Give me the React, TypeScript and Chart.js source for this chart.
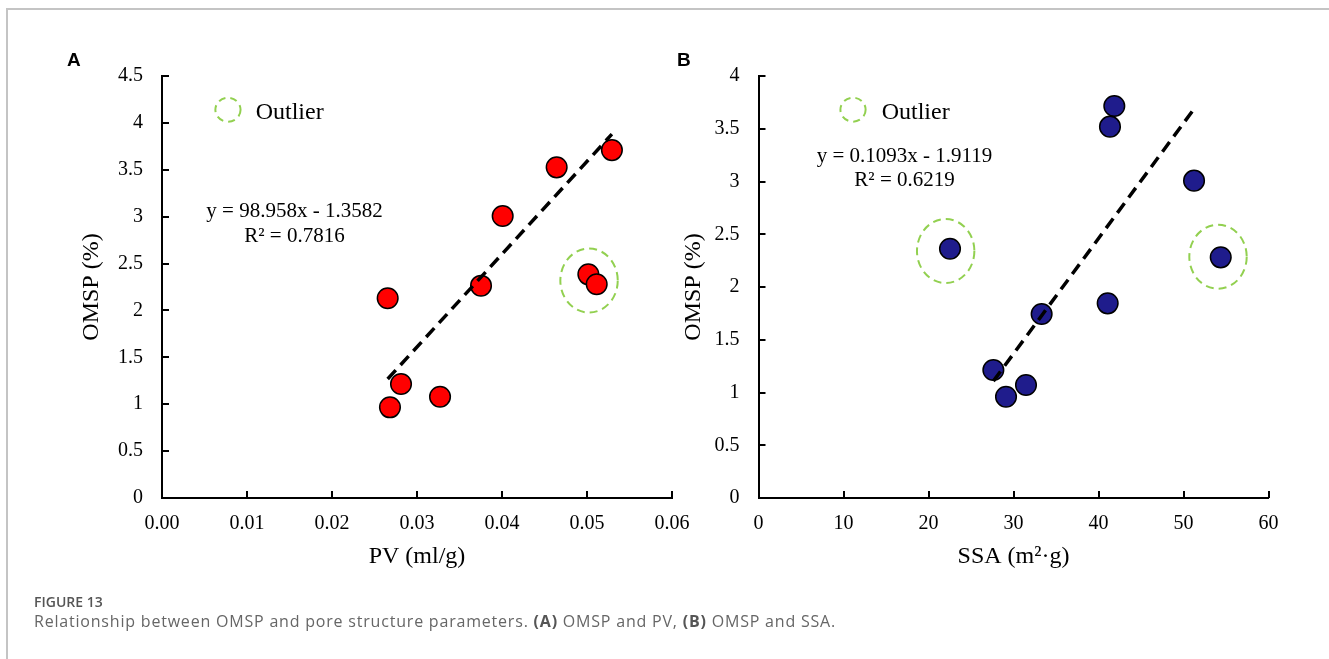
import React, { useEffect, useRef } from "react";
import { Chart, registerables } from "chart.js";

Chart.register(...registerables);

// ---------- Panel A : OMSP vs PV ----------
const pvValues = [0.02655, 0.03753, 0.04008, 0.04643, 0.05293, 0.05016, 0.05114, 0.02812, 0.02682, 0.03271];
const omspA = [2.13, 2.264, 3.007, 3.526, 3.71, 2.385, 2.279, 1.215, 0.967, 1.08];
const xTicksA = [0, 0.01, 0.02, 0.03, 0.04, 0.05, 0.06];
const xTickLabelsA = ["0.00", "0.01", "0.02", "0.03", "0.04", "0.05", "0.06"];
const yTicksA = [0, 0.5, 1, 1.5, 2, 2.5, 3, 3.5, 4, 4.5];
const yTickLabelsA = ["0", "0.5", "1", "1.5", "2", "2.5", "3", "3.5", "4", "4.5"];
const fitA = { slope: 98.958, intercept: -1.3582, from: 0.02655, to: 0.05293 };
const eqTextA = ["y = 98.958x - 1.3582", "R² = 0.7816"];
const outlierXA = [0.05024];
const outlierYA = [2.319];

// ---------- Panel B : OMSP vs SSA ----------
const ssaValues = [41.86, 41.35, 51.24, 22.53, 54.38, 41.08, 33.31, 27.63, 31.47, 29.12];
const omspB = [3.716, 3.52, 3.008, 2.363, 2.281, 1.845, 1.744, 1.213, 1.071, 0.96];
const xTicksB = [0, 10, 20, 30, 40, 50, 60];
const xTickLabelsB = ["0", "10", "20", "30", "40", "50", "60"];
const yTicksB = [0, 0.5, 1, 1.5, 2, 2.5, 3, 3.5, 4];
const yTickLabelsB = ["0", "0.5", "1", "1.5", "2", "2.5", "3", "3.5", "4"];
const fitB = { slope: 0.1093, intercept: -1.9119, from: 27.63, to: 51.24 };
const eqTextB = ["y = 0.1093x - 1.9119", "R² = 0.6219"];
const outlierXB = [22.02, 54.06];
const outlierYB = [2.341, 2.287];

const SERIF = "'Liberation Serif', 'Times New Roman', serif";
const GREEN = "#92d050";

type Panel = {
  xs: number[];
  ys: number[];
  color: string;
  xMin: number; xMax: number; xStep: number;
  yMin: number; yMax: number; yStep: number;
  xTicks: number[]; xLabels: string[];
  yTicks: number[]; yLabels: string[];
  fit: { slope: number; intercept: number; from: number; to: number };
  eq: string[];
  eqPos: [number, number, number];
  legendPos: [number, number];
  legendTextX: number;
  legendTextY: number;
  outX: number[]; outY: number[];
  xTitle: string; yTitle: string;
  yAxisWidth: number; padRight: number; padTop: number; yTitlePad: number;
};

const panelA: Panel = {
  xs: pvValues, ys: omspA, color: "#ff0000",
  xMin: 0, xMax: 0.06, xStep: 0.01, yMin: 0, yMax: 4.5, yStep: 0.5,
  xTicks: xTicksA, xLabels: xTickLabelsA, yTicks: yTicksA, yLabels: yTickLabelsA,
  fit: fitA, eq: eqTextA,
  eqPos: [0.01559, 3.053, 2.794],
  legendPos: [0.00776, 4.14],
  legendTextX: 0.01102, legendTextY: 4.04,
  outX: outlierXA, outY: outlierYA,
  xTitle: "PV (ml/g)", yTitle: "OMSP (%)",
  yAxisWidth: 162, padRight: 28, padTop: 76, yTitlePad: 77.6,
};

const panelB: Panel = {
  xs: ssaValues, ys: omspB, color: "#1f1c8c",
  xMin: 0, xMax: 60, xStep: 10, yMin: 0, yMax: 4, yStep: 0.5,
  xTicks: xTicksB, xLabels: xTickLabelsB, yTicks: yTicksB, yLabels: yTickLabelsB,
  fit: fitB, eq: eqTextB,
  eqPos: [17.18, 3.235, 3.005],
  legendPos: [11.12, 3.681],
  legendTextX: 14.49, legendTextY: 3.592,
  outX: outlierXB, outY: outlierYB,
  xTitle: "SSA (m²·g)", yTitle: "OMSP (%)",
  yAxisWidth: 129.5, padRight: 60.5, padTop: 76, yTitlePad: 50.3,
};

function labelFor(ticks: number[], labels: string[], v: number) {
  for (let j = 0; j < ticks.length; j++) if (Math.abs(ticks[j] - v) < 1e-9) return labels[j];
  return "";
}

function makeAnnotations(p: Panel) {
  return {
    id: "panelAnnotations",
    afterDatasetsDraw(chart: any) {
      const { ctx } = chart;
      const x = chart.scales.x;
      const y = chart.scales.y;
      ctx.save();
      ctx.strokeStyle = GREEN;
      ctx.lineWidth = 2;
      ctx.setLineDash([8, 5]);
      p.outX.forEach((vx, i) => {
        ctx.beginPath();
        ctx.ellipse(x.getPixelForValue(vx), y.getPixelForValue(p.outY[i]), 28.7, 32, 0, 0, Math.PI * 2);
        ctx.stroke();
      });
      ctx.setLineDash([7, 5]);
      ctx.beginPath();
      ctx.ellipse(x.getPixelForValue(p.legendPos[0]), y.getPixelForValue(p.legendPos[1]), 12.6, 12, 0, 0, Math.PI * 2);
      ctx.stroke();
      ctx.setLineDash([]);
      ctx.fillStyle = "#000";
      ctx.font = `24px ${SERIF}`;
      ctx.textAlign = "left";
      ctx.textBaseline = "alphabetic";
      ctx.fillText("Outlier", x.getPixelForValue(p.legendTextX), y.getPixelForValue(p.legendTextY));
      ctx.font = `21px ${SERIF}`;
      ctx.textAlign = "center";
      ctx.textBaseline = "middle";
      const ex = x.getPixelForValue(p.eqPos[0]);
      ctx.fillText(p.eq[0], ex, y.getPixelForValue(p.eqPos[1]));
      ctx.fillText(p.eq[1], ex, y.getPixelForValue(p.eqPos[2]));
      ctx.restore();
    },
    afterDraw(chart: any) {
      // inward tick marks on both axes
      const { ctx } = chart;
      const x = chart.scales.x;
      const y = chart.scales.y;
      const area = chart.chartArea;
      ctx.save();
      ctx.strokeStyle = "#000";
      ctx.lineWidth = 2;
      ctx.setLineDash([]);
      ctx.beginPath();
      x.ticks.forEach((t: any) => {
        const px = Math.round(x.getPixelForValue(t.value));
        ctx.moveTo(px, area.bottom);
        ctx.lineTo(px, area.bottom - 7);
      });
      y.ticks.forEach((t: any) => {
        const py = Math.round(y.getPixelForValue(t.value));
        ctx.moveTo(area.left, py);
        ctx.lineTo(area.left + 7, py);
      });
      ctx.stroke();
      ctx.restore();
    },
  };
}

function buildChart(canvas: HTMLCanvasElement, p: Panel) {
  const points = p.xs.map((v, i) => ({ x: v, y: p.ys[i] }));
  const trend = [p.fit.from, p.fit.to].map((v) => ({ x: v, y: p.fit.slope * v + p.fit.intercept }));
  const tickFont = { family: SERIF, size: 20 };
  const titleFont = { family: SERIF, size: 24 };
  return new Chart(canvas, {
    type: "scatter",
    data: {
      datasets: [
        {
          data: trend,
          showLine: true,
          borderColor: "#000",
          borderWidth: 3.5,
          borderDash: [12, 7],
          pointRadius: 0,
          fill: false,
          order: 0,
        } as any,
        {
          data: points,
          backgroundColor: p.color,
          borderColor: "#000",
          borderWidth: 1.5,
          pointRadius: 10.3,
          order: 1,
        } as any,
      ],
    },
    options: {
      animation: false,
      responsive: false,
      maintainAspectRatio: false,
      events: [],
      layout: { padding: { left: 0, right: p.padRight, top: p.padTop, bottom: 0 } },
      plugins: { legend: { display: false }, tooltip: { enabled: false } },
      scales: {
        x: {
          type: "linear",
          position: "bottom",
          min: p.xMin,
          max: p.xMax,
          ticks: {
            stepSize: p.xStep,
            autoSkip: false,
            maxRotation: 0,
            padding: 14,
            color: "#000",
            font: tickFont,
            callback: (v: any) => labelFor(p.xTicks, p.xLabels, Number(v)),
          },
          grid: { display: true, drawOnChartArea: false, drawTicks: false },
          border: { display: true, color: "#000", width: 2 },
          title: { display: true, text: p.xTitle, color: "#000", font: titleFont, padding: { top: 0, bottom: 28.6 } },
          afterFit: (s: any) => {
            s.height = 102;
            s.paddingLeft = 0;
            s.paddingRight = 0;
          },
        },
        y: {
          type: "linear",
          position: "left",
          min: p.yMin,
          max: p.yMax,
          ticks: {
            stepSize: p.yStep,
            autoSkip: false,
            padding: 19,
            color: "#000",
            font: tickFont,
            callback: (v: any) => labelFor(p.yTicks, p.yLabels, Number(v)),
          },
          grid: { display: true, drawOnChartArea: false, drawTicks: false },
          border: { display: true, color: "#000", width: 2 },
          title: { display: true, text: p.yTitle, color: "#000", font: titleFont, padding: { top: p.yTitlePad, bottom: 0 } },
          afterFit: (s: any) => {
            s.width = p.yAxisWidth;
            s.paddingTop = 0;
            s.paddingBottom = 0;
          },
        },
      },
    } as any,
    plugins: [makeAnnotations(p) as any],
  });
}

function PanelChart({ panel, left }: { panel: Panel; left: number }) {
  const ref = useRef<HTMLCanvasElement | null>(null);
  useEffect(() => {
    if (!ref.current) return;
    const chart = buildChart(ref.current, panel);
    return () => chart.destroy();
  }, [panel]);
  return (
    <canvas
      ref={ref}
      width={700}
      height={600}
      style={{ position: "absolute", left, top: 0, width: 700, height: 600 }}
    />
  );
}

const captionBold = { fontWeight: 700, color: "#555" } as const;

export default function App() {
  return (
    <div
      style={{
        position: "absolute",
        left: 0,
        top: 0,
        width: 1329,
        height: 659,
        background: "#fff",
        overflow: "hidden",
      }}
    >
      <div
        style={{
          position: "absolute",
          left: 6,
          top: 8,
          width: 1323,
          height: 651,
          borderTop: "2px solid #c4c4c4",
          borderLeft: "2px solid #c4c4c4",
          boxSizing: "border-box",
        }}
      />
      <PanelChart panel={panelA} left={0} />
      <PanelChart panel={panelB} left={629} />
      <div
        style={{
          position: "absolute",
          left: 67,
          top: 50,
          font: "bold 19px 'Liberation Sans', Arial, sans-serif",
          lineHeight: "19px",
          color: "#000",
        }}
      >
        A
      </div>
      <div
        style={{
          position: "absolute",
          left: 677,
          top: 50,
          font: "bold 19px 'Liberation Sans', Arial, sans-serif",
          lineHeight: "19px",
          color: "#000",
        }}
      >
        B
      </div>
      <div
        style={{
          position: "absolute",
          left: 34,
          top: 595,
          fontFamily: "'Open Sans', sans-serif",
          fontWeight: 600,
          fontSize: 14,
          lineHeight: "14px",
          color: "#555",
          whiteSpace: "nowrap",
        }}
      >
        FIGURE 13
      </div>
      <div
        style={{
          position: "absolute",
          left: 34,
          top: 613,
          fontFamily: "'Open Sans', sans-serif",
          fontWeight: 400,
          fontSize: 16,
          lineHeight: "16px",
          letterSpacing: "0.8px",
          color: "#666",
          whiteSpace: "nowrap",
        }}
      >
        Relationship between OMSP and pore structure parameters. <b style={captionBold}>(A)</b> OMSP and PV,{" "}
        <b style={captionBold}>(B)</b> OMSP and SSA.
      </div>
    </div>
  );
}
